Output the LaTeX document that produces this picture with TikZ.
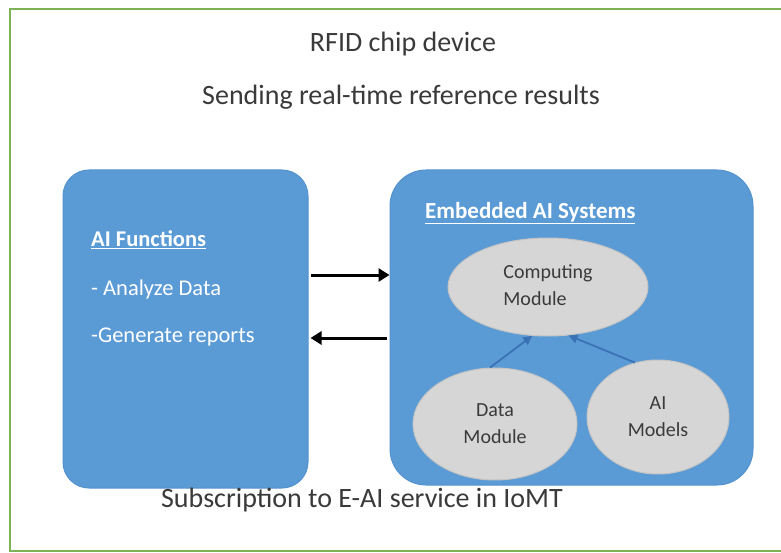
\documentclass[tikz,border=0pt]{standalone}
\usepackage{fontspec}
\setmainfont{Carlito}
\usetikzlibrary{shapes.geometric,arrows.meta}
\definecolor{boxblue}{HTML}{5B9BD5}
\definecolor{boxedge}{HTML}{5593CF}
\definecolor{ellfill}{HTML}{D6D6D6}
\definecolor{elledge}{HTML}{C4C4C4}
\definecolor{txtgray}{HTML}{3A3A3A}
\definecolor{frame}{HTML}{7DB356}
\definecolor{arrblue}{HTML}{3A73B5}
\tikzset{
  panel/.style={draw=boxedge, line width=1pt, fill=boxblue, inner sep=0pt},
  module/.style={ellipse, draw=elledge, line width=1pt, fill=ellfill, inner sep=0pt, text=txtgray, font=\fontsize{20}{27}\selectfont, align=center},
  title/.style={text=txtgray, font=\fontsize{28}{32}\selectfont, inner sep=0pt},
  wtext/.style={text=white, anchor=west, inner sep=0pt, font=\fontsize{22.5}{26}\selectfont},
  whead/.style={text=white, anchor=west, inner sep=0pt, font=\bfseries\fontsize{22.5}{26}\selectfont},
  bigarrow/.style={draw=black, line width=3pt, -{Triangle[length=11pt,width=13pt]}},
  smallarrow/.style={draw=arrblue, line width=1.8pt, -{Triangle[length=9pt,width=9pt]}}
}
\begin{document}
\begin{tikzpicture}[x=1pt,y=-1pt]
\useasboundingbox (0,0) rectangle (781,553);
\fill[white] (0,0) rectangle (781,553);
% frame
\draw[frame, line width=2.2pt] (790,9) -- (10,9) -- (10,551) -- (790,551);
% titles
\node[title] (t1) at (403,44) {RFID chip device};
\node[title] (t2) at (401,97) {Sending real-time reference results};
% panels
\node[panel, rounded corners=26pt, minimum width=245pt, minimum height=318pt] (L) at (185.5,329) {};
\node[panel, rounded corners=36pt, minimum width=363pt, minimum height=315pt] (R) at (571.5,327.5) {};
% left panel text
\node[whead] (lh) at (91,240) {\underline{AI Functions}};
\node[wtext] (l1) at (91,290) {- Analyze Data};
\node[wtext] (l2) at (91,337) {-Generate reports};
% right panel heading
\node[whead, font=\bfseries\fontsize{23}{26}\selectfont] (rh) at (425,213) {\underline{Embedded AI Systems}};
% modules
\node[module, minimum width=200pt, minimum height=98pt] (C) at (548,287) {\begin{tabular}{@{}l@{}}Computing\\Module\end{tabular}};
\node[module, minimum width=164pt, minimum height=112pt] (D) at (495,424) {Data\\Module};
\node[module, minimum width=142pt, minimum height=114pt] (M) at (658,417) {AI\\Models};
% inner arrows
\draw[smallarrow] (D.95) -- (C.-108);
\draw[smallarrow] (M.113) -- (C.-67);
% outer arrows
\draw[bigarrow] (L.east |- 0,275) ++(2,0) coordinate (a1) -- (R.west |- 0,275);
\draw[bigarrow] (R.west |- 0,338) ++(-3,0) coordinate (a2) -- ([xshift=2pt]L.east |- 0,338);
% bottom caption
\node[title] (t3) at (362,500) {Subscription to E-AI service in IoMT};
\end{tikzpicture}
\end{document}
